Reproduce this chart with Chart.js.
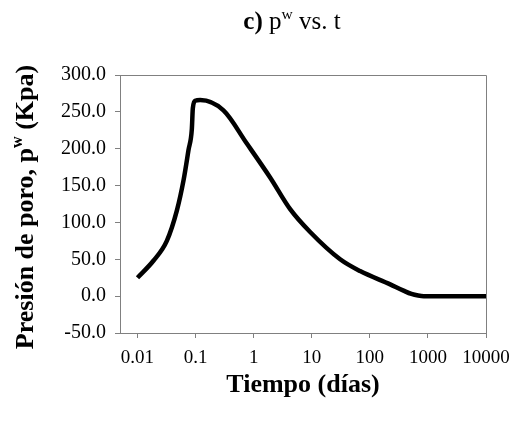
<!DOCTYPE html>
<html>
<head>
<meta charset="utf-8">
<script src="https://cdn.jsdelivr.net/npm/chart.js@4"></script>
<style>
  html, body { margin: 0; padding: 0; background: #fff; }
  #wrap { width: 513px; height: 425px; }
</style>
</head>
<body>
<div id="wrap"><canvas id="chart" width="513" height="425"></canvas></div>
<script>
// tiempo (días) y presión de poro (kPa)
let t_dias = [0.01, 0.0188, 0.032, 0.0476, 0.062, 0.0755, 0.0863, 0.0897, 0.0984, 0.12,
              0.302, 0.763, 1.92, 4.25, 9.38, 30.8, 68, 224, 380, 520, 680, 850, 2000, 10000];
let p_kpa = [25, 48, 75, 116, 157, 198, 227, 255, 265, 266,
             252, 207, 161, 118, 87, 50, 34, 16, 7.5, 3, 0.8, 0, 0, 0];

let x_ticks = [0.01, 0.1, 1, 10, 100, 1000, 10000];
let y_ticks = [-50, 0, 50, 100, 150, 200, 250, 300];

const SERIF = "'Liberation Serif', 'Times New Roman', serif";
const AXIS_GREY = "#808080";

// draws one line of text made of pieces (bold / superscript)
function draw_pieces(ctx, pieces, x, y, size) {
    let total = 0;
    for (const p of pieces) {
        ctx.font = (p.bold ? "bold " : "") + (p.sup ? size * 0.62 : size) + "px " + SERIF;
        p.w = ctx.measureText(p.text).width;
        total += p.w;
    }
    let cx = x - total / 2;
    for (const p of pieces) {
        ctx.font = (p.bold ? "bold " : "") + (p.sup ? size * 0.62 : size) + "px " + SERIF;
        ctx.fillText(p.text, cx, p.sup ? y - size * 0.42 : y);
        cx += p.w;
    }
}

let textPlugin = {
    id: 'textPlugin',
    afterDraw: (chart) => {
        const {ctx, chartArea} = chart;
        ctx.save();
        // frame (top and right)
        ctx.strokeStyle = AXIS_GREY;
        ctx.lineWidth = 1;
        ctx.beginPath();
        ctx.moveTo(chartArea.left, chartArea.top + 0.5);
        ctx.lineTo(chartArea.right + 0.5, chartArea.top + 0.5);
        ctx.lineTo(chartArea.right + 0.5, chartArea.bottom);
        ctx.stroke();

        ctx.fillStyle = "#000";
        ctx.textBaseline = "alphabetic";
        ctx.textAlign = "left";
        // title
        draw_pieces(ctx, [
            {text: "c)", bold: true},
            {text: " p"},
            {text: "w", sup: true},
            {text: " vs. t"}
        ], 292, 29, 25);
        // x title
        draw_pieces(ctx, [{text: "Tiempo (días)", bold: true}], 303, 392, 26);
        // y title
        ctx.translate(33, 207);
        ctx.rotate(-Math.PI / 2);
        draw_pieces(ctx, [
            {text: "Presión de poro, p", bold: true},
            {text: "w", bold: true, sup: true},
            {text: " (Kpa)", bold: true}
        ], 0, 0, 26);
        ctx.restore();
    }
};

let chart_obj = new Chart(document.getElementById('chart'), {
    type: 'line',
    data: {
        datasets: [{
            data: t_dias.map((t, i) => ({x: t, y: p_kpa[i]})),
            borderColor: '#000',
            borderWidth: 4.5,
            pointRadius: 0,
            cubicInterpolationMode: 'monotone',
            fill: false,
        }]
    },
    options: {
        responsive: false,
        animation: false,
        layout: {
            padding: {left: 0, right: 27, top: 75, bottom: 0}
        },
        scales: {
            x: {
                type: 'logarithmic',
                min: 0.005,
                max: 10000,
                afterFit: (scale) => {
                    scale.height = 92;
                    scale.paddingLeft = 0;
                    scale.paddingRight = 0;
                },
                afterBuildTicks: (scale) => {
                    scale.ticks = x_ticks.map(v => ({value: v}));
                },
                border: {display: true, color: AXIS_GREY, width: 1},
                grid: {
                    display: true,
                    drawOnChartArea: false,
                    drawTicks: true,
                    tickLength: 5,
                    color: AXIS_GREY,
                },
                ticks: {
                    color: '#000',
                    padding: 9,
                    maxRotation: 0,
                    autoSkip: false,
                    font: {family: SERIF, size: 19},
                    callback: (v) => String(v),
                },
            },
            y: {
                min: -50,
                max: 300,
                afterFit: (scale) => {
                    scale.width = 120;
                    scale.paddingTop = 0;
                    scale.paddingBottom = 0;
                },
                afterBuildTicks: (scale) => {
                    scale.ticks = y_ticks.map(v => ({value: v}));
                },
                border: {display: true, color: AXIS_GREY, width: 1},
                grid: {
                    display: true,
                    drawOnChartArea: false,
                    drawTicks: true,
                    tickLength: 5,
                    color: AXIS_GREY,
                },
                ticks: {
                    color: '#000',
                    padding: 9,
                    font: {family: SERIF, size: 20},
                    callback: (v) => Number(v).toFixed(1),
                },
            },
        },
        plugins: {
            legend: {display: false},
            tooltip: {enabled: false},
            title: {display: false},
        },
    },
    plugins: [textPlugin],
});
</script>
</body>
</html>
